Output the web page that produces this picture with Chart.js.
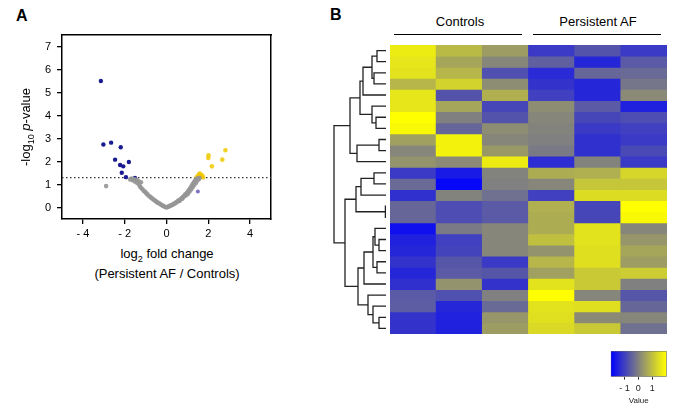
<!DOCTYPE html>
<html lang="en">
<head>
<meta charset="UTF-8">
<title>Volcano plot and heatmap</title>
<style>
  body { margin: 0; background: #fff; font-family: "Liberation Sans", Arial, sans-serif; color: #000; }
  .fig { position: relative; width: 679px; height: 411px; overflow: hidden; }
  canvas, .lbl { position: absolute; }
  .panel { font-weight: bold; font-size: 16px; }
  .ttl { font-size: 13px; line-height: 16px; font-weight: normal; color: #000; text-align: center; white-space: nowrap; }
  .ttl sub { font-size: 9px; line-height: 0; }
  .grp { position: absolute; border-top: 1.5px solid #000; height: 0; }
</style>
<script src="https://cdn.jsdelivr.net/npm/chart.js"></script>
</head>
<body>
<div class="fig">
  <div class="lbl panel" style="left:16px; top:7px;">A</div>
  <div class="lbl panel" style="left:330px; top:6px;">B</div>

  <canvas id="volcano" width="290" height="240" style="left:0; top:0;"></canvas>
  <div class="lbl ttl" style="left:-74px; top:119px; width:200px; height:16px; transform:rotate(-90deg);">-log<sub>10</sub> <i>p</i>-value</div>
  <div class="lbl ttl" style="left:67px; top:246px; width:200px;">log<sub>2</sub> fold change</div>
  <div class="lbl ttl" style="left:67px; top:266px; width:200px;">(Persistent AF / Controls)</div>

  <div class="lbl ttl" style="left:410px; top:14px; width:100px;">Controls</div>
  <div class="lbl ttl" style="left:538px; top:14px; width:120px;">Persistent AF</div>
  <div class="grp" style="left:394px; top:34px; width:128px;"></div>
  <div class="grp" style="left:533px; top:34px; width:128px;"></div>

  <canvas id="dendro" width="56" height="289" style="left:330px; top:45px;"></canvas>
  <canvas id="heat" width="277" height="289" style="left:390px; top:45px;"></canvas>
  <canvas id="scale" width="79" height="66" style="left:600px; top:345px;"></canvas>
</div>
<script>
// ---- panel A data: [log2 fold change, -log10 p]
const xTicks = [-4, -2, 0, 2, 4];
const yTicks = [0, 1, 2, 3, 4, 5, 6, 7];
const pCut = 1.3;
const downGenes = [[-3.14,5.5],[-3.02,2.74],[-2.65,2.82],[-2.19,2.62],[-2.46,2.08],[-1.8,1.98],[-2.22,1.85],[-2.07,1.79],[-2.14,1.51],[-1.94,1.32],[-1.51,1.29]];
const upGenes = [[2.01,2.27],[2.0,2.15],[2.67,2.08],[2.82,2.49],[2.17,1.79],[1.44,1.31],[1.5,1.36],[1.55,1.44],[1.6,1.48],[1.62,1.38],[1.66,1.33],[1.7,1.4],[1.58,1.32],[1.75,1.31]];
const otherGenes = [[1.5,0.7]];
const nsGenes = [
  [-2.89,0.93],
  [-1.74,1.22],[-1.68,1.26],[-1.62,1.18],[-1.56,1.24],[-1.5,1.12],[-1.45,1.2],[-1.4,1.06],[-1.34,1.15],[-1.3,0.98],[-1.22,1.1],
  [-1.26,0.9],[-1.2,0.84],[-1.14,0.78],[-1.08,0.72],[-1.02,0.68],[-0.97,0.62],[-0.92,0.58],[-0.86,0.52],[-0.8,0.48],[-0.75,0.44],
  [-0.7,0.4],[-0.64,0.36],[-0.58,0.32],[-0.52,0.28],[-0.47,0.24],[-0.42,0.21],[-0.36,0.18],[-0.3,0.15],[-0.24,0.11],[-0.18,0.08],
  [-0.12,0.05],[-0.06,0.02],[0,0],
  [0.05,0.02],[0.1,0.04],[0.14,0.06],[0.19,0.08],[0.24,0.1],[0.28,0.12],[0.33,0.14],[0.37,0.17],[0.42,0.19],[0.46,0.22],[0.5,0.25],
  [0.55,0.27],[0.58,0.31],[0.62,0.28],[0.65,0.34],[0.69,0.37],[0.72,0.4],[0.76,0.38],[0.79,0.45],[0.82,0.48],[0.86,0.5],[0.89,0.56],
  [0.92,0.52],[0.95,0.6],[0.98,0.64],[1.01,0.58],[1.04,0.7],[1.07,0.75],[1.1,0.68],[1.12,0.8],[1.15,0.86],[1.18,0.78],[1.2,0.92],
  [1.23,0.98],[1.25,0.88],[1.28,1.04],[1.31,1.1],[1.33,0.98],[1.36,1.15],[1.39,1.2],[1.42,1.08],[1.44,1.24],[1.47,1.18],[1.5,1.27],
  [1.54,1.22],[1.58,1.28]
];

// ---- panel B data
const samples = ['Control 1', 'Control 2', 'Control 3', 'Persistent AF 1', 'Persistent AF 2', 'Persistent AF 3'];
const heatRows = [
  [1.7, 0.9, 0.45, -1.1, -0.7, -1.1],
  [1.6, 0.6, 0.1, -0.5, -1.4, -0.6],
  [1.55, 0.85, -0.75, -1.35, -0.4, -0.35],
  [0.85, 1.3, 0.2, -1.2, -1.4, -0.15],
  [1.6, -0.7, 0.75, -1.0, -1.4, 0.15],
  [1.6, 0.6, -0.9, 0.2, -0.6, -1.5],
  [2.0, 0.0, -0.7, 0.1, -0.9, -0.8],
  [1.9, -0.4, 0.2, 0.05, -1.1, -1.0],
  [0.5, 1.8, 0.1, 0.0, -1.25, -1.1],
  [0.1, 1.8, 0.4, -0.1, -1.25, -0.85],
  [0.3, 0.15, 1.7, -1.3, 0.05, -1.1],
  [-1.1, -1.6, 0.05, 0.7, 0.75, 1.35],
  [-0.35, -1.9, 0.0, 0.1, 1.1, 1.1],
  [-1.25, 0.05, -0.25, -1.0, 1.45, 1.45],
  [-0.4, -0.8, -0.6, 0.75, -0.9, 2.0],
  [-0.4, -0.8, -0.6, 0.7, -0.9, 1.9],
  [-1.75, -0.1, 0.1, 0.7, 1.55, 0.1],
  [-1.5, -1.0, 0.1, 1.0, 1.55, 0.35],
  [-1.4, -0.95, 0.1, 0.3, 1.5, 0.6],
  [-1.2, -0.65, -1.1, 0.85, 1.5, 0.45],
  [-1.4, -0.6, -0.65, 0.5, 1.15, 1.2],
  [-1.25, 0.3, -1.2, 1.55, 1.15, 0.0],
  [-0.6, -0.75, 0.0, 2.0, 0.1, -0.65],
  [-0.55, -1.4, -0.35, 1.55, 1.5, -0.4],
  [-1.2, -1.5, 0.35, 1.5, 0.15, 0.1],
  [-1.2, -1.5, 0.45, 1.4, 1.15, -0.25]
];
// row clustering: [child a, child b, merge height]; leaves are 0..25, new nodes get 26, 27, ...
const merges = [
  [0,1,9],[2,3,12],[26,27,14],[28,4,23],[6,7,10],[5,30,14],[29,31,26],[8,9,7],[33,10,29],[32,34,36],
  [11,12,12],[36,13,25],[14,15,0.6],[37,38,30],[17,18,7],[16,40,11],[19,20,9],[41,42,13],[43,21,22],
  [24,25,7],[23,45,13],[22,46,18],[44,47,28],[39,48,41],[35,49,52]
];
const legendTicks = [-1, 0, 1];

const font = { family: '"Liberation Sans", Arial, sans-serif', size: 11 };
const dashLabel = v => v < 0 ? '- ' + Math.abs(v) : String(v);
const pts = arr => arr.map(p => ({ x: p[0], y: p[1] }));

function heatColor(v) {
  const t = Math.max(-1, Math.min(1, v / 2));
  if (t < 0) {
    const a = -t;
    return `rgb(${Math.round(128 * (1 - a))},${Math.round(128 * (1 - a))},${Math.round(128 + 127 * a)})`;
  }
  return `rgb(${Math.round(128 + 127 * t)},${Math.round(128 + 127 * t)},${Math.round(128 * (1 - t))})`;
}

// ---- volcano
new Chart(document.getElementById('volcano'), {
  type: 'scatter',
  data: {
    datasets: [
      { data: pts(nsGenes), backgroundColor: 'rgba(150,150,150,0.9)', pointRadius: 2.3, borderWidth: 0 },
      { data: pts(otherGenes), backgroundColor: '#8070c0', pointRadius: 2, borderWidth: 0 },
      { data: pts(upGenes), backgroundColor: 'rgba(240,200,0,0.85)', pointRadius: 2.3, borderWidth: 0 },
      { data: pts(downGenes), backgroundColor: '#1a1a92', pointRadius: 2.2, borderWidth: 0 },
      { data: [{ x: -5, y: pCut }, { x: 5, y: pCut }], showLine: true, pointRadius: 0,
        borderColor: '#333', borderWidth: 1.4, borderDash: [1.5, 2.5] }
    ]
  },
  options: {
    responsive: false, animation: false,
    layout: { padding: { left: 0, top: 35, right: 19, bottom: 0 } },
    plugins: { legend: { display: false }, tooltip: { enabled: false } },
    scales: {
      x: {
        type: 'linear', min: -5, max: 5,
        afterBuildTicks: s => { s.ticks = xTicks.map(v => ({ value: v })); },
        afterFit: s => { s.height = 21; },
        grid: { drawOnChartArea: false, tickLength: 5, color: '#000', lineWidth: 1.3 },
        border: { color: '#000', width: 1.5 },
        ticks: { color: '#000', font: font, padding: 3, maxRotation: 0, callback: dashLabel }
      },
      y: {
        type: 'linear', min: -0.5, max: 7.5,
        afterBuildTicks: s => { s.ticks = yTicks.map(v => ({ value: v })); },
        afterFit: s => { s.width = 62; },
        grid: { drawOnChartArea: false, tickLength: 5, color: '#000', lineWidth: 1.3 },
        border: { color: '#000', width: 1.5 },
        ticks: { color: '#000', font: font, padding: 6 }
      },
      xTop: {
        type: 'linear', position: 'top', min: -5, max: 5,
        afterFit: s => { s.height = 0; },
        grid: { display: false }, ticks: { display: false },
        border: { display: true, color: '#000', width: 1.5 }
      },
      yRight: {
        type: 'linear', position: 'right', min: -0.5, max: 7.5,
        afterFit: s => { s.width = 0; },
        grid: { display: false }, ticks: { display: false },
        border: { display: true, color: '#000', width: 1.5 }
      }
    }
  }
});

// ---- dendrogram
const nodeY = heatRows.map((r, i) => i + 0.5);
const nodeH = heatRows.map(() => 0);
const branchSets = merges.map(([a, b, h]) => {
  nodeY.push((nodeY[a] + nodeY[b]) / 2);
  nodeH.push(h);
  return {
    data: [{ x: nodeH[a], y: nodeY[a] }, { x: h, y: nodeY[a] }, { x: h, y: nodeY[b] }, { x: nodeH[b], y: nodeY[b] }],
    showLine: true, pointRadius: 0, borderColor: '#222', borderWidth: 1.3, borderJoinStyle: 'miter'
  };
});
new Chart(document.getElementById('dendro'), {
  type: 'scatter',
  data: { datasets: branchSets },
  options: {
    responsive: false, animation: false,
    layout: { padding: 0 },
    plugins: { legend: { display: false }, tooltip: { enabled: false } },
    scales: {
      x: { type: 'linear', min: 0, max: 56, reverse: true, display: false },
      y: { type: 'linear', min: 0, max: heatRows.length, reverse: true, display: false }
    }
  }
});

// ---- heatmap (one stacked bar segment per cell)
new Chart(document.getElementById('heat'), {
  type: 'bar',
  data: {
    labels: samples,
    datasets: heatRows.map((row, i) => ({
      label: 'gene ' + (i + 1),
      data: samples.map(() => 1),
      backgroundColor: row.map(heatColor),
      borderWidth: 0, inflateAmount: 0.4,
      barPercentage: 1, categoryPercentage: 1
    }))
  },
  options: {
    responsive: false, animation: false,
    layout: { padding: 0 },
    plugins: { legend: { display: false }, tooltip: { enabled: false } },
    scales: {
      x: { stacked: true, display: false },
      y: { stacked: true, display: false, min: 0, max: heatRows.length, reverse: true }
    }
  }
});

// ---- colour key
new Chart(document.getElementById('scale'), {
  type: 'bar',
  data: {
    labels: ['Value'],
    datasets: [{
      data: [[-2, 2.05]],
      backgroundColor: ctx => {
        const c = ctx.chart;
        if (!c.chartArea) return '#808080';
        const g = c.ctx.createLinearGradient(c.scales.x.getPixelForValue(-2), 0, c.scales.x.getPixelForValue(2), 0);
        g.addColorStop(0, heatColor(-2));
        g.addColorStop(0.5, heatColor(0));
        g.addColorStop(1, heatColor(2));
        return g;
      },
      borderColor: '#666', borderWidth: 0.8, borderSkipped: false,
      barPercentage: 1, categoryPercentage: 1
    }]
  },
  options: {
    indexAxis: 'y',
    responsive: false, animation: false,
    layout: { padding: { left: 10.7, right: 12.3, top: 6, bottom: 5 } },
    plugins: { legend: { display: false }, tooltip: { enabled: false } },
    scales: {
      x: {
        type: 'linear', min: -2, max: 2.05,
        afterBuildTicks: s => { s.ticks = legendTicks.map(v => ({ value: v })); },
        afterFit: s => { s.height = 29.3; },
        grid: { drawOnChartArea: false, tickLength: 3, color: '#333' },
        border: { display: false },
        ticks: { color: '#222', font: { family: font.family, size: 9 }, padding: 3, callback: dashLabel },
        title: { display: true, text: 'Value', color: '#222', font: { family: font.family, size: 8 }, padding: { top: 1, bottom: 0 } }
      },
      y: { display: false }
    }
  }
});
</script>
</body>
</html>
